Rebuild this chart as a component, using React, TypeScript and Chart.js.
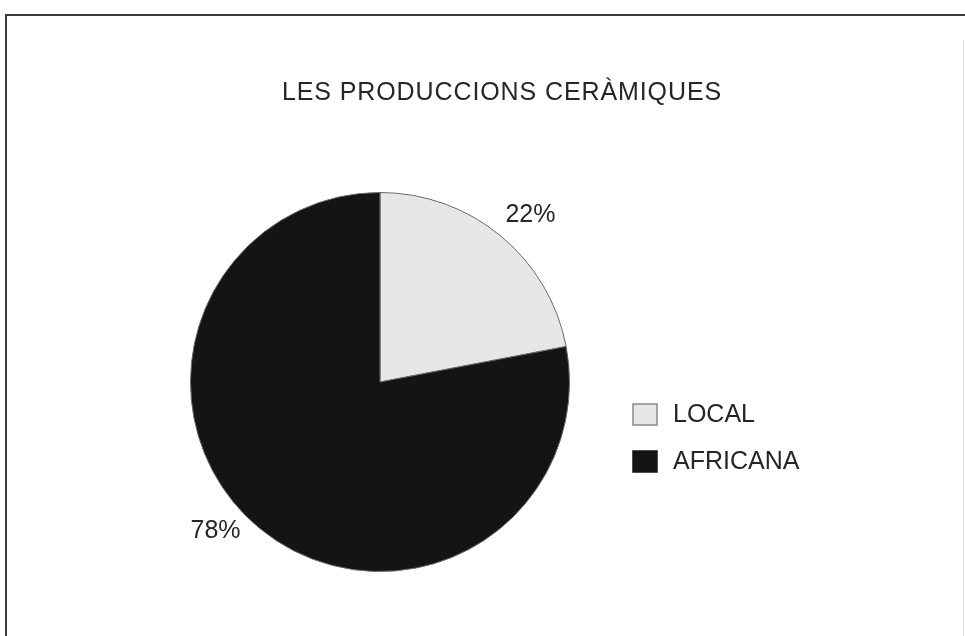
import React, { useEffect, useRef } from "react";
import { Chart, registerables } from "chart.js";

Chart.register(...registerables);

const TITLE = "LES PRODUCCIONS CERÀMIQUES";
const categories = ["LOCAL", "AFRICANA"];
const shares = [22, 78];
const sliceColors = ["#e7e7e7", "#141414"];
const legendBorders = ["#8a8a8a", "#141414"];

const FONT = "'Liberation Sans', Arial, Helvetica, sans-serif";
const TEXT = "#262626";

const decorPlugin = {
  id: "decor",
  afterDraw(chart: any) {
    const ctx = chart.ctx as CanvasRenderingContext2D;
    const W = chart.width;
    const H = chart.height;
    ctx.save();
    // frame
    ctx.strokeStyle = "#3a3a3a";
    ctx.lineWidth = 2;
    ctx.beginPath();
    ctx.moveTo(6, H);
    ctx.lineTo(6, 15);
    ctx.lineTo(W, 15);
    ctx.stroke();
    ctx.strokeStyle = "#e2e2e2";
    ctx.lineWidth = 1;
    ctx.beginPath();
    ctx.moveTo(963.5, 40);
    ctx.lineTo(963.5, H);
    ctx.stroke();

    // title
    ctx.fillStyle = TEXT;
    ctx.font = `25px ${FONT}`;
    (ctx as any).letterSpacing = "0.9px";
    ctx.textAlign = "center";
    ctx.textBaseline = "middle";
    ctx.fillText(TITLE, 502, 93);
    (ctx as any).letterSpacing = "0px";

    // percent labels
    const meta = chart.getDatasetMeta(0);
    const data = chart.data.datasets[0].data as number[];
    const total = data.reduce((a, b) => a + b, 0);
    ctx.font = `25px ${FONT}`;
    meta.data.forEach((arc: any, i: number) => {
      const p = arc.getProps(["x", "y", "startAngle", "endAngle", "outerRadius"], true);
      const mid = (p.startAngle + p.endAngle) / 2;
      const d = p.outerRadius * 1.08;
      const right = Math.cos(mid) >= 0;
      const x = p.x + Math.cos(mid) * d + (right ? -5 : -9);
      const y = p.y + Math.sin(mid) * d - 9;
      ctx.textAlign = right ? "left" : "right";
      ctx.textBaseline = "middle";
      const pct = Math.round((data[i] / total) * 100);
      ctx.fillText(pct + "%", x, y);
    });

    // legend
    const labels = chart.data.labels as string[];
    const colors = chart.data.datasets[0].backgroundColor as string[];
    labels.forEach((lab, i) => {
      const cy = 414 + i * 47;
      ctx.fillStyle = colors[i];
      ctx.fillRect(633, cy - 10, 24, 21);
      ctx.strokeStyle = legendBorders[i];
      ctx.lineWidth = 1.5;
      ctx.strokeRect(633, cy - 10, 24, 21);
      ctx.fillStyle = TEXT;
      ctx.font = `25px ${FONT}`;
      ctx.textAlign = "left";
      ctx.textBaseline = "middle";
      ctx.fillText(lab, 673, cy + 1);
    });
    ctx.restore();
  },
};

export default function App() {
  const ref = useRef<HTMLCanvasElement | null>(null);
  useEffect(() => {
    if (!ref.current) return;
    const chart = new Chart(ref.current, {
      type: "pie",
      data: {
        labels: categories,
        datasets: [
          {
            data: shares,
            backgroundColor: sliceColors,
            borderColor: "#6a6a6a",
            borderWidth: 1,
          },
        ],
      },
      options: {
        animation: false,
        responsive: false,
        devicePixelRatio: 1,
        layout: { padding: { left: 190, right: 395, top: 192, bottom: 64 } },
        plugins: {
          legend: { display: false },
          title: { display: false },
          tooltip: { enabled: false },
        },
      },
      plugins: [decorPlugin],
    });
    return () => chart.destroy();
  }, []);
  return (
    <div style={{ position: "fixed", left: 0, top: 0, width: 965, height: 636, background: "#ffffff" }}>
      <canvas ref={ref} width={965} height={636} style={{ display: "block" }} />
    </div>
  );
}
